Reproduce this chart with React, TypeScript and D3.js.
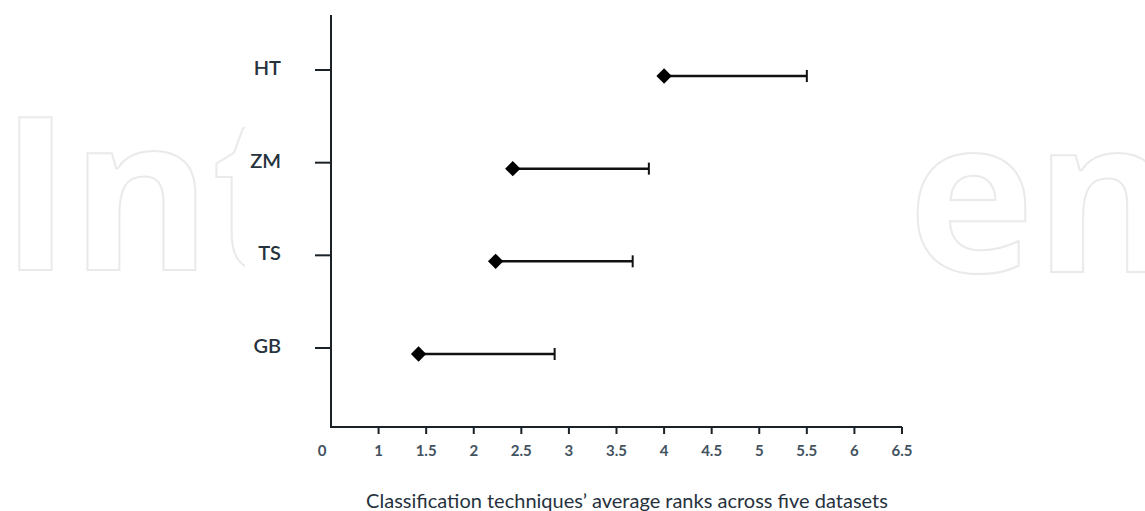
import React from "react";
import * as d3 from "d3";

const techniques = ["HT", "ZM", "TS", "GB"];
const averageRanks = [4.0, 2.41, 2.23, 1.42];
const upperBounds = [5.5, 3.84, 3.67, 2.85];
const xTickValues = [0.5, 1, 1.5, 2, 2.5, 3, 3.5, 4, 4.5, 5, 5.5, 6, 6.5];
const xTickLabels = ["0", "1", "1.5", "2", "2.5", "3", "3.5", "4", "4.5", "5", "5.5", "6", "6.5"];
const xTitle = "Classification techniques\u2019 average ranks across five datasets";

const W = 1145;
const H = 511;
const FONT = "Lato, 'Open Sans', sans-serif";
const TEXT = "#26323d";

export default function App() {
  const x = d3.scaleLinear().domain([0.5, 6.5]).range([331, 902]);
  const y = d3.scalePoint<string>().domain([...techniques].reverse()).range([348, 70]);
  const axisLeft = x(0.5);
  const axisTop = 15;
  const axisBottom = 427;
  const diamond = d3.symbol().type(d3.symbolDiamond2).size(150)();

  return (
    <svg width={W} height={H} style={{ position: "absolute", left: 0, top: 0, background: "#fff" }}>
      {/* watermark */}
      <g fill="none" stroke="#eaeaea" strokeWidth={2} fontFamily="'Open Sans', sans-serif" fontWeight={700} fontSize={214}>
        <text x={0} y={270}>Int</text>
        <text x={908} y={272}>en</text>
      </g>
      <rect x={245} y={0} width={670} height={H} fill="#fff" />

      {/* axes */}
      <line x1={axisLeft} x2={axisLeft} y1={axisTop} y2={axisBottom} stroke="#1a2228" strokeWidth={2} />
      <line x1={axisLeft - 1} x2={x(6.5)} y1={axisBottom} y2={axisBottom} stroke="#1a2228" strokeWidth={2} />

      {xTickValues.map((v, i) => (
        <g key={v}>
          {i > 0 && <line x1={x(v)} x2={x(v)} y1={axisBottom} y2={axisBottom + 7} stroke="#1a2228" strokeWidth={2} />}
          <text
            x={i === 0 ? x(v) - 9 : x(v)}
            y={456}
            textAnchor="middle"
            fontFamily={FONT}
            fontWeight={700}
            fontSize={15}
            fill="#43525f"
          >
            {xTickLabels[i]}
          </text>
        </g>
      ))}

      {techniques.map((t) => (
        <g key={t}>
          <line x1={axisLeft - 16} x2={axisLeft} y1={y(t)} y2={y(t)} stroke="#1a2228" strokeWidth={2} />
          <text x={281} y={(y(t) as number) + 5} textAnchor="end" fontFamily={FONT} fontSize={20} fontWeight={600} fill={TEXT}>
            {t}
          </text>
        </g>
      ))}

      {/* rank intervals */}
      {techniques.map((t, i) => {
        const cy = (y(t) as number) + 6;
        return (
          <g key={t + "bar"}>
            <line x1={x(averageRanks[i])} x2={x(upperBounds[i])} y1={cy} y2={cy} stroke="#111" strokeWidth={2.5} />
            <line x1={x(upperBounds[i])} x2={x(upperBounds[i])} y1={cy - 6} y2={cy + 6} stroke="#111" strokeWidth={2} />
            <path d={diamond as string} transform={`translate(${x(averageRanks[i])},${cy})`} fill="#000" />
          </g>
        );
      })}

      <text x={627} y={508} textAnchor="middle" fontFamily={FONT} fontSize={20} fill={TEXT}>
        {xTitle}
      </text>
    </svg>
  );
}
